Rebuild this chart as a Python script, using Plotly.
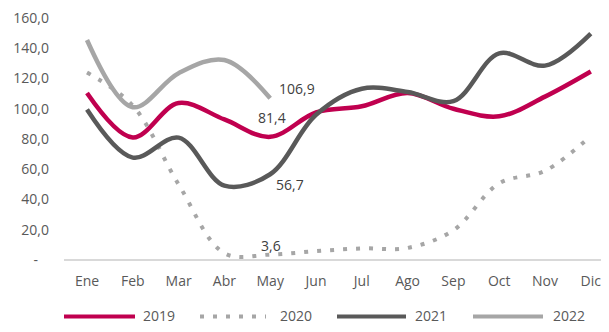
import plotly.graph_objects as go

months = ["Ene", "Feb", "Mar", "Abr", "May", "Jun", "Jul", "Ago", "Sep", "Oct", "Nov", "Dic"]
v2019 = [110.4, 81.0, 103.8, 92.9, 81.4, 97.5, 101.6, 110.4, 100.0, 95.0, 108.0, 124.6]
v2020 = [123.9, 102.0, 50.0, 4.5, 3.6, 5.9, 7.7, 8.0, 19.7, 50.7, 59.0, 82.0]
v2021 = [99.5, 67.7, 80.9, 49.2, 56.7, 96.0, 113.2, 111.0, 105.0, 136.6, 128.5, 149.7]
v2022 = [145.4, 101.0, 123.5, 132.2, 106.9]

ytick_vals = [0, 20, 40, 60, 80, 100, 120, 140, 160]
ytick_text = ["-\u00a0\u00a0\u00a0", "20,0", "40,0", "60,0", "80,0", "100,0", "120,0", "140,0", "160,0"]

series = [
    ("2019", v2019, "#C0004F", "solid"),
    ("2020", v2020, "#A6A6A6", "4px,9px"),
    ("2021", v2021, "#595959", "solid"),
    ("2022", v2022, "#A6A6A6", "solid"),
]

# the page body has an 8px margin on every side; work in screen pixels and offset
OFF = 8
SW, SH = 609, 332
W, H = SW - 2 * OFF, SH - 2 * OFF
plot_left_s, plot_top_s, plot_bottom_s = 64, 8, 266
ML = plot_left_s - OFF
MT = plot_top_s - OFF
MB = (H + OFF) - plot_bottom_s
MR = 0
plot_w = W - ML - MR
plot_h = H - MT - MB
px_per_cat = 45.8
px_per_unit = 1.525
zero_s = 260
first_cat_s = 87
x0 = -(first_cat_s - plot_left_s) / px_per_cat
x1 = x0 + plot_w / px_per_cat
y_bottom = -(plot_bottom_s - zero_s) / px_per_unit
y_top = (zero_s - plot_top_s) / px_per_unit

fig = go.Figure()
for name, vals, color, dash in series:
    fig.add_trace(go.Scatter(
        x=months[:len(vals)], y=vals, name=name, mode="lines",
        line=dict(color=color, width=4.5 if dash == "solid" else 4, shape="spline", smoothing=1.0, dash=dash),
        showlegend=False, hoverinfo="skip",
    ))

font_main = "Open Sans, sans-serif"
lab_color = "#404040"
label_specs = [
    (v2022, "left", 7, 10),
    (v2019, "center", 2, 19),
    (v2021, "left", 4, -10),
    (v2020, "center", 1, 9),
]
for vals, xa, xs, ys in label_specs:
    val = vals[4]
    fig.add_annotation(x=months[4], y=val, xref="x", yref="y", text=f"{val:.1f}".replace(".", ","),
                       showarrow=False, xanchor=xa, yanchor="middle", xshift=xs, yshift=ys,
                       font=dict(family=font_main, size=14, color=lab_color))

def s2paper_x(sx):
    return (sx - plot_left_s) / plot_w

def s2paper_y(sy):
    return (plot_bottom_s - sy) / plot_h

leg_y = 316
leg_items = [(64, 135, 141), (200, 266, 278), (337, 406, 413), (473, 543, 551)]
for (name, vals, color, dash), (a, b, t) in zip(series, leg_items):
    fig.add_shape(type="line", xref="paper", yref="paper",
                  x0=s2paper_x(a), x1=s2paper_x(b), y0=s2paper_y(leg_y + 1), y1=s2paper_y(leg_y + 1),
                  line=dict(color=color, width=4, dash=dash))
    fig.add_annotation(xref="paper", yref="paper", x=s2paper_x(t), y=s2paper_y(leg_y),
                       text=name, showarrow=False, xanchor="left", yanchor="middle",
                       font=dict(family=font_main, size=14, color="#595959"))

fig.update_layout(
    width=W, height=H,
    margin=dict(l=ML, r=MR, t=MT, b=MB, pad=0),
    paper_bgcolor="white", plot_bgcolor="white",
    font=dict(family=font_main, size=14, color="#595959"),
    xaxis=dict(type="category", range=[x0, x1], showgrid=False, zeroline=False, showline=False,
               ticks="", ticklabelstandoff=5, ticklabeloverflow="allow",
               tickfont=dict(size=14, color="#595959")),
    yaxis=dict(range=[y_bottom, y_top], tickvals=ytick_vals, ticktext=ytick_text,
               showgrid=False, zeroline=True, zerolinecolor="#D9D9D9", zerolinewidth=2,
               showline=False, ticks="", ticklabelstandoff=14, ticklabeloverflow="allow",
               tickfont=dict(size=14, color="#595959")),
    showlegend=False,
)

fig.write_html("out.html")
